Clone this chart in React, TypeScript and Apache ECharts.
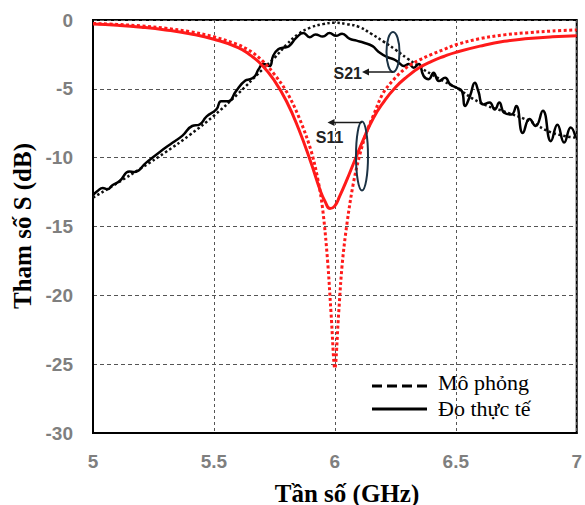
import React, { useEffect, useRef } from "react";
import * as echarts from "echarts";

// Frequency (GHz) / value (dB) pairs
const freqS11Sim = [5.0, 5.1, 5.2, 5.3, 5.4, 5.5, 5.6, 5.65, 5.7, 5.75, 5.8, 5.85, 5.9, 5.93, 5.95, 5.97, 5.985, 6.0, 6.015, 6.03, 6.05, 6.075, 6.1, 6.13, 6.16, 6.2, 6.25, 6.3, 6.35, 6.4, 6.45, 6.5, 6.6, 6.7, 6.8, 6.9, 7.0];
const s11Sim = [-0.25, -0.32, -0.43, -0.6, -0.85, -1.22, -1.8, -2.25, -2.95, -3.95, -5.2, -7.0, -9.4, -11.6, -13.8, -17.5, -21.5, -25.3, -21.5, -17.8, -14.8, -12.0, -10.0, -8.2, -6.9, -5.3, -4.2, -3.4, -2.9, -2.5, -2.15, -1.8, -1.35, -1.08, -0.92, -0.8, -0.72];

const freqS11Meas = [5.0, 5.1, 5.2, 5.3, 5.4, 5.5, 5.6, 5.65, 5.7, 5.75, 5.8, 5.85, 5.9, 5.94, 5.96, 5.98, 6.0, 6.02, 6.05, 6.08, 6.12, 6.16, 6.2, 6.25, 6.3, 6.35, 6.4, 6.45, 6.5, 6.6, 6.7, 6.8, 6.9, 7.0];
const s11Meas = [-0.29, -0.38, -0.52, -0.72, -1.0, -1.4, -2.0, -2.55, -3.3, -4.4, -5.9, -7.9, -10.3, -12.4, -13.2, -13.7, -13.5, -12.8, -11.6, -10.3, -8.6, -7.1, -6.0, -4.9, -4.1, -3.45, -3.0, -2.65, -2.35, -1.9, -1.55, -1.35, -1.22, -1.15];

const freqS21Sim = [5.0, 5.1, 5.2, 5.3, 5.4, 5.5, 5.6, 5.7, 5.75, 5.8, 5.85, 5.9, 5.95, 6.0, 6.05, 6.1, 6.15, 6.2, 6.25, 6.3, 6.35, 6.4, 6.45, 6.5, 6.6, 6.7, 6.8, 6.9, 7.0];
const s21Sim = [-12.9, -11.85, -10.75, -9.6, -8.35, -6.95, -5.35, -3.6, -2.75, -1.8, -1.0, -0.55, -0.3, -0.2, -0.3, -0.5, -1.0, -1.55, -2.15, -2.8, -3.4, -3.95, -4.45, -4.9, -6.0, -6.65, -7.3, -8.2, -8.55];

const freqS21Meas = [5.0, 5.02, 5.04, 5.06, 5.08, 5.11, 5.15, 5.17, 5.22, 5.275, 5.33, 5.37, 5.41, 5.44, 5.47, 5.51, 5.53, 5.56, 5.59, 5.63, 5.65, 5.67, 5.684, 5.705, 5.73, 5.745, 5.766, 5.79, 5.81, 5.84, 5.87, 5.896, 5.92, 5.95, 5.978, 6.005, 6.03, 6.06, 6.09, 6.12, 6.156, 6.18, 6.217, 6.244, 6.265, 6.285, 6.306, 6.326, 6.347, 6.367, 6.388, 6.408, 6.43, 6.456, 6.477, 6.504, 6.525, 6.538, 6.559, 6.579, 6.593, 6.613, 6.64, 6.661, 6.68, 6.7, 6.73, 6.75, 6.777, 6.805, 6.83, 6.86, 6.893, 6.92, 6.948, 6.975, 6.996];
const s21Meas = [-12.7, -12.4, -12.2, -12.3, -12.0, -11.7, -11.0, -11.05, -10.36, -9.6, -8.9, -8.4, -7.7, -7.6, -7.0, -6.5, -5.9, -5.9, -5.2, -4.4, -4.3, -4.07, -3.6, -3.2, -3.35, -2.6, -2.13, -2.0, -1.9, -1.3, -0.95, -1.25, -1.05, -1.2, -0.95, -1.15, -1.0, -1.35, -1.5, -1.65, -1.9, -2.3, -2.7, -2.86, -3.1, -3.35, -3.2, -3.46, -3.2, -4.07, -4.3, -3.83, -4.44, -4.2, -4.68, -4.92, -5.16, -6.25, -5.5, -4.55, -5.16, -6.13, -6.0, -6.5, -6.0, -6.73, -6.86, -6.25, -8.2, -7.2, -7.7, -6.6, -8.8, -7.6, -8.9, -7.8, -8.55];

const xTicks = { min: 5, max: 7, step: 0.5 };
const yTicks = { min: -30, max: 0, step: 5 };

const legendNames = ["Mô phỏng", "Đo thực tế"];
const xTitle = "Tần số (GHz)";
const yTitle = "Tham số S (dB)";

const zip = (xs: number[], ys: number[]) => xs.map((x, i) => [x, ys[i]]);

export default function App() {
  const ref = useRef<HTMLDivElement>(null);
  useEffect(() => {
    if (!ref.current) return;
    const chart = echarts.init(ref.current, null, { renderer: "svg" });
    const tickLabel = {
      color: "#7f7f7f",
      fontWeight: "bold" as const,
      fontSize: 19,
      fontFamily: "'Liberation Sans', Arial, sans-serif",
    };
    const serif = "'Liberation Serif', 'Times New Roman', serif";
    const sans = "'Liberation Sans', Arial, sans-serif";
    const navy = "#1b3244";
    const ink = "#1a1a1a";
    const txt = (
      x: number,
      y: number,
      text: string,
      size: number,
      weight: string,
      family: string,
      align: string,
      extra: any = {}
    ) => ({
      type: "text",
      x,
      y,
      ...extra,
      style: {
        text,
        fontSize: size,
        fontWeight: weight,
        fontFamily: family,
        fill: extra.fill || "#000",
        textAlign: align,
        textVerticalAlign: "middle",
        align,
        verticalAlign: "middle",
      },
    });
    chart.setOption({
      animation: false,
      backgroundColor: "#fff",
      grid: {
        left: 93,
        right: 5,
        top: 20,
        bottom: 72,
        show: true,
        borderColor: "#000",
        borderWidth: 2,
        backgroundColor: "transparent",
      },
      xAxis: {
        type: "value",
        min: xTicks.min,
        max: xTicks.max,
        interval: xTicks.step,
        axisLine: { show: true, onZero: false, lineStyle: { color: "#000", width: 2 } },
        axisTick: { show: false },
        axisLabel: { ...tickLabel, margin: 19, showMinLabel: true, showMaxLabel: true },
        splitLine: { show: true, lineStyle: { type: [3, 3], color: "#555", width: 1 } },
      },
      yAxis: {
        type: "value",
        min: yTicks.min,
        max: yTicks.max,
        interval: yTicks.step,
        axisLine: { show: true, onZero: false, lineStyle: { color: "#000", width: 2 } },
        axisTick: { show: false },
        axisLabel: { ...tickLabel, margin: 20 },
        splitLine: { show: true, lineStyle: { type: [4, 3], color: "#555", width: 1 } },
      },
      series: [
        {
          name: "S21 " + legendNames[0],
          type: "line",
          data: zip(freqS21Sim, s21Sim),
          showSymbol: false,
          smooth: 0.5,
          lineStyle: { color: "#111", width: 2.5, type: [2.5, 2.5] },
          z: 2,
        },
        {
          name: "S21 " + legendNames[1],
          type: "line",
          data: zip(freqS21Meas, s21Meas),
          showSymbol: false,
          smooth: 0.5,
          lineStyle: { color: "#000", width: 2.5, type: "solid" },
          z: 3,
        },
        {
          name: "S11 " + legendNames[0],
          type: "line",
          data: zip(freqS11Sim, s11Sim),
          showSymbol: false,
          smooth: 0.35,
          lineStyle: { color: "#ff1a1a", width: 3, type: [3, 2.5] },
          z: 4,
        },
        {
          name: "S11 " + legendNames[1],
          type: "line",
          data: zip(freqS11Meas, s11Meas),
          showSymbol: false,
          smooth: 0.5,
          lineStyle: { color: "#ff1a1a", width: 3, type: "solid" },
          z: 5,
        },
      ],
      graphic: [
        txt(347, 493, xTitle, 25, "bold", serif, "center"),
        txt(22, 226, yTitle, 25, "bold", serif, "center", { rotation: Math.PI / 2 }),
        {
          type: "line",
          shape: { x1: 372, y1: 386, x2: 427, y2: 386 },
          style: { stroke: "#000", lineWidth: 3, lineDash: [10, 5] },
        },
        {
          type: "line",
          shape: { x1: 372, y1: 409, x2: 427, y2: 409 },
          style: { stroke: "#000", lineWidth: 3 },
        },
        txt(438, 382, legendNames[0], 22, "normal", serif, "left"),
        txt(438, 408, legendNames[1], 22, "normal", serif, "left"),
        {
          type: "ellipse",
          shape: { cx: 393, cy: 52, rx: 6.5, ry: 20 },
          style: { fill: "none", stroke: navy, lineWidth: 2 },
          z: 10,
        },
        {
          type: "line",
          shape: { x1: 393, y1: 72, x2: 367, y2: 72 },
          style: { stroke: ink, lineWidth: 1.5 },
          z: 10,
        },
        {
          type: "polygon",
          shape: { points: [[362, 72], [369, 68.5], [369, 75.5]] },
          style: { fill: ink },
          z: 10,
        },
        txt(362, 73, "S21", 16, "bold", sans, "right", { z: 10, fill: "#222" }),
        {
          type: "ellipse",
          shape: { cx: 362, cy: 156, rx: 6, ry: 34.5 },
          style: { fill: "none", stroke: navy, lineWidth: 2 },
          z: 10,
        },
        {
          type: "line",
          shape: { x1: 362, y1: 122.5, x2: 332, y2: 122.5 },
          style: { stroke: ink, lineWidth: 1.5 },
          z: 10,
        },
        {
          type: "polygon",
          shape: { points: [[327.5, 122.5], [334.5, 119], [334.5, 126]] },
          style: { fill: ink },
          z: 10,
        },
        txt(329.5, 137, "S11", 16, "bold", sans, "center", { z: 10, fill: "#222" }),
      ],
    });
    return () => chart.dispose();
  }, []);
  return (
    <div
      ref={ref}
      style={{ position: "fixed", left: 0, top: 0, width: 585, height: 505, background: "#fff" }}
    />
  );
}
